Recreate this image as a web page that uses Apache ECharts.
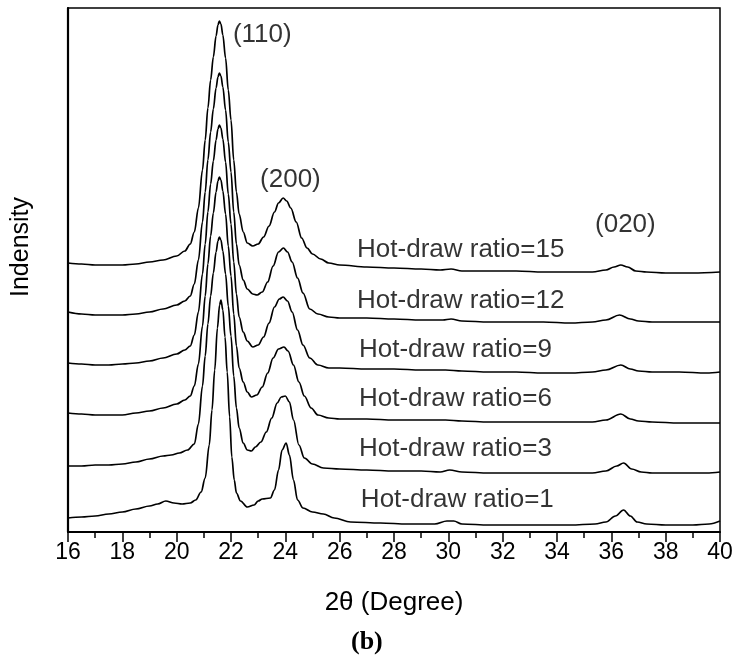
<!DOCTYPE html>
<html>
<head>
<meta charset="utf-8">
<script src="https://cdn.jsdelivr.net/npm/echarts@6/dist/echarts.min.js"></script>
<style>html,body{margin:0;padding:0;background:#fff}#c{width:738px;height:670px}</style>
</head>
<body>
<div id="c"></div>
<script>
// 2θ axis
const xMin = 16, xMax = 40, xStep = 2;
// offset XRD curves (arbitrary intensity units)
const ratio15 = [[16,269],[16.5,268],[17,267],[17.5,267],[18,267],[18.5,268],[19,270],[19.5,272],[20,276],[20.3,281],[20.5,288],[20.65,300],[20.8,324],[20.95,362],[21.05,392],[21.15,424],[21.25,452],[21.35,475],[21.45,496],[21.52,507],[21.57,511],[21.63,508],[21.7,497],[21.8,474],[21.9,442],[22,412],[22.1,372],[22.2,340],[22.3,318],[22.45,300],[22.6,289],[22.8,286],[23,288],[23.2,295],[23.4,306],[23.6,320],[23.75,329],[23.92,334],[24.05,331],[24.2,324],[24.4,310],[24.6,294],[24.8,284],[25,278],[25.3,273],[25.6,269],[26,267],[27,265],[28,264],[29,263],[29.7,262],[30.1,263],[30.5,261],[31.5,261],[32.5,261],[33.5,260],[34.5,260],[35.3,260],[35.8,262],[36.1,265],[36.35,267],[36.6,265],[36.9,261],[37.3,260],[38,259],[39,259],[40,260]];
const ratio12 = [[16,220],[16.5,218],[17,217],[17.5,217],[18,217],[18.5,218],[19,220],[19.5,223],[20,227],[20.3,231],[20.5,236],[20.65,248],[20.8,272],[20.95,310],[21.05,340],[21.15,372],[21.25,400],[21.35,423],[21.45,444],[21.52,455],[21.57,459],[21.63,456],[21.7,445],[21.8,422],[21.9,390],[22,360],[22.1,320],[22.2,288],[22.3,267],[22.45,252],[22.6,243],[22.8,238],[22.96,237],[23.15,240],[23.35,250],[23.55,266],[23.75,280],[23.93,284],[24.08,280],[24.25,270],[24.45,254],[24.65,239],[24.9,223],[25.2,218],[25.6,215],[26,214],[27,214],[28,213],[29,212],[29.8,212],[30.1,213],[30.5,211],[31.5,210],[32.5,210],[33.5,210],[34.5,209],[35.3,210],[35.8,212],[36.3,217],[36.7,213],[37,211],[37.5,210],[38.5,210],[39.5,210],[40,210]];
const ratio9 = [[16,169],[16.5,168],[17,167],[17.5,167],[18,168],[18.5,169],[19,171],[19.5,174],[20,178],[20.3,182],[20.5,186],[20.65,197],[20.8,220],[20.95,258],[21.05,288],[21.15,320],[21.25,348],[21.35,371],[21.45,392],[21.52,403],[21.57,407],[21.63,404],[21.7,393],[21.8,370],[21.9,338],[22,308],[22.1,270],[22.2,238],[22.3,215],[22.45,200],[22.6,191],[22.8,185],[23,187],[23.2,195],[23.4,209],[23.6,225],[23.78,233],[23.92,235],[24.08,231],[24.25,220],[24.45,202],[24.65,187],[24.9,174],[25.2,167],[25.6,164],[26,164],[27,163],[28,163],[29,162],[29.9,162],[30.5,161],[31.5,160],[32.5,160],[33.5,159],[34.5,159],[35.3,160],[35.8,162],[36.35,167],[36.7,163],[37,161],[37.5,160],[38.5,160],[39.5,159],[40,160]];
const ratio6 = [[16,119],[16.5,118],[17,117],[17.5,117],[18,117],[18.5,119],[19,121],[19.5,124],[20,128],[20.3,132],[20.5,136],[20.65,146],[20.8,168],[20.95,206],[21.05,236],[21.15,268],[21.25,296],[21.35,319],[21.45,340],[21.52,351],[21.57,355],[21.63,352],[21.7,341],[21.8,318],[21.9,286],[22,256],[22.1,218],[22.2,186],[22.3,164],[22.45,150],[22.6,140],[22.75,135],[22.95,137],[23.15,145],[23.35,159],[23.55,174],[23.75,183],[23.95,185],[24.1,181],[24.3,167],[24.5,150],[24.7,136],[24.95,124],[25.2,117],[25.6,114],[26,113],[27,113],[28,112],[29,112],[29.9,112],[30.5,111],[31.5,110],[32.5,110],[33.5,110],[34.5,110],[35.3,110],[35.8,112],[36.35,118],[36.7,113],[37,111],[37.5,110],[38.5,109],[39.5,109],[40,109]];
const ratio3 = [[16,66],[16.5,66],[17,67],[17.5,67],[18,68],[18.5,70],[19,73],[19.5,76],[19.8,77],[20.1,79],[20.4,82],[20.65,88],[20.8,108],[20.95,146],[21.05,176],[21.15,208],[21.25,236],[21.35,259],[21.45,280],[21.52,291],[21.57,295],[21.63,292],[21.7,281],[21.8,258],[21.9,226],[22,196],[22.1,156],[22.2,124],[22.3,104],[22.45,89],[22.6,82],[22.75,81],[22.9,85],[23.1,90],[23.3,100],[23.5,114],[23.7,129],[23.85,135],[24,136],[24.15,130],[24.3,112],[24.5,87],[24.7,74],[25,68],[25.4,64],[26,63],[27,62],[28,61],[29,61],[29.7,60],[30.05,62],[30.5,60],[31.5,59],[32.5,59],[33.5,59],[34.5,59],[35.3,59],[35.8,61],[36.2,66],[36.45,69],[36.75,63],[37.1,60],[37.5,59],[38.5,59],[39.5,59],[40,60]];
const ratio1 = [[16,14],[16.5,15],[17,16],[17.5,18],[18,20],[18.5,23],[19,26],[19.3,28],[19.6,31],[19.9,29],[20.2,28],[20.5,29],[20.7,32],[20.9,40],[21.05,54],[21.2,87],[21.3,122],[21.4,162],[21.5,204],[21.58,227],[21.63,232],[21.7,222],[21.78,195],[21.86,160],[21.95,115],[22.03,75],[22.12,52],[22.2,39],[22.35,31],[22.6,25],[22.85,27],[23,31],[23.15,33],[23.45,34],[23.6,42],[23.75,62],[23.88,82],[24.03,89],[24.15,77],[24.3,52],[24.45,32],[24.65,24],[25,20],[25.4,18],[25.8,14],[26.4,10],[27.5,9],[28.5,8],[29.5,8],[29.95,11],[30.2,11],[30.5,8],[31.5,7],[32.5,7],[33.5,7],[34.5,7],[35.4,8],[35.8,10],[36.15,16],[36.45,22],[36.7,16],[36.95,10],[37.3,8],[38,7],[39,7],[39.6,8],[40,11]];

const seriesNames = ['Hot-draw ratio=15','Hot-draw ratio=12','Hot-draw ratio=9','Hot-draw ratio=6','Hot-draw ratio=3','Hot-draw ratio=1'];
const seriesData = [ratio15, ratio12, ratio9, ratio6, ratio3, ratio1];
// curve labels: [2θ of left edge, intensity]
const curveLabelPos = [[26.64,282],[26.64,231],[26.71,182],[26.71,133],[26.71,83],[26.78,32]];
// reflection labels
const peakNames = ['(110)','(200)','(020)'];
const peakLabelPos = [[22.07,497],[23.07,352],[35.40,307]];

const FONT = '"Liberation Sans", Arial, sans-serif';
const chart = echarts.init(document.getElementById('c'));

const series = seriesData.map((d, i) => ({
  name: seriesNames[i], type: 'line', data: d, showSymbol: false, symbol: 'none',
  smooth: 0.35, smoothMonotone: 'x',
  lineStyle: { color: '#000', width: 1.7 }, z: 3, silent: true
}));
series.push({
  type: 'scatter', name: 'labels', symbolSize: 0, silent: true, z: 5,
  data: curveLabelPos.map((p, i) => ({ value: p, name: seriesNames[i] }))
    .concat(peakLabelPos.map((p, i) => ({ value: p, name: peakNames[i] }))),
  label: { show: true, position: 'right', distance: 0, formatter: '{b}', color: '#000', fontSize: 26, fontFamily: FONT }
});

chart.setOption({
  animation: false,
  backgroundColor: '#fff',
  grid: { left: 68, right: 18, top: 8, bottom: 138, show: true, borderColor: '#000', borderWidth: 1.5 },
  xAxis: {
    type: 'value', min: xMin, max: xMax, interval: xStep,
    name: '2θ (Degree)', nameLocation: 'middle', nameGap: 58,
    nameTextStyle: { color: '#000', fontSize: 26, fontFamily: FONT },
    axisLine: { show: true, onZero: false, lineStyle: { color: '#000', width: 2 } },
    axisTick: { show: true, inside: false, length: 10, lineStyle: { color: '#000', width: 1.5 } },
    minorTick: { show: true, splitNumber: 2, length: 6, lineStyle: { color: '#000', width: 1.5 } },
    axisLabel: { color: '#000', fontSize: 23, fontFamily: FONT, margin: 9 },
    splitLine: { show: false }
  },
  yAxis: {
    type: 'value', min: 0, max: 524,
    name: 'Indensity', nameLocation: 'middle', nameGap: 34, nameRotate: 90,
    nameTextStyle: { color: '#000', fontSize: 25, fontFamily: FONT, padding: [0, 0, 0, 46] },
    axisLine: { show: true, lineStyle: { color: '#000', width: 2.2 } },
    axisTick: { show: false }, axisLabel: { show: false }, splitLine: { show: false }
  },
  graphic: [{
    type: 'text', left: 351, top: 629,
    style: { text: '(b)', fill: '#000', font: 'bold 26px "Liberation Serif", "Times New Roman", serif' }
  }],
  series: series
});
</script>
</body>
</html>
